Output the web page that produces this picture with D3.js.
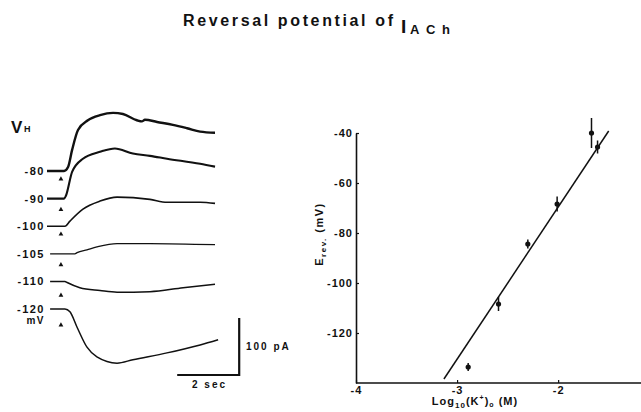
<!DOCTYPE html>
<html>
<head>
<meta charset="utf-8">
<script src="https://cdn.jsdelivr.net/npm/d3@7"></script>
<style>
  body { margin: 0; background: #fff; }
  svg { display: block; }
  text { font-family: "Liberation Sans", Arial, sans-serif; font-weight: bold; fill: #111; }
</style>
</head>
<body>
<svg id="chart" width="641" height="412"></svg>
<script>
// holding potentials (mV), one current trace each
const holding = ['-80', '-90', '-100', '-105', '-110', '-120'];

// ACh-induced currents: [time (s), current (pA)], upward deflection positive
const trace80 = [[0, 0], [0.55, 0], [0.68, 7], [0.81, 37], [1.0, 72], [1.32, 89], [1.71, 98], [2.13, 102], [2.45, 100], [2.9, 89], [3.06, 87], [3.16, 90], [3.55, 86], [4.06, 81], [4.52, 75], [4.94, 69], [5.42, 67]];
const trace90 = [[0, 0], [0.55, 0], [0.61, 5], [0.81, 47], [1.16, 70], [1.71, 82], [2.19, 88], [2.77, 79], [3.32, 75], [3.87, 70], [4.94, 61], [5.42, 56]];
const trace100 = [[0, 0], [0.58, 0], [0.74, 9], [1.16, 30], [1.71, 44], [2.26, 51], [3.32, 47], [3.87, 42], [4.94, 42], [5.42, 40]];
const trace105 = [[0.1, 0], [0.9, 0], [0.97, 2], [1.29, 7], [1.61, 12], [2.26, 18], [3.32, 18], [5.42, 16]];
const trace110 = [[0.1, 0], [0.58, 0], [0.65, -2], [1.06, -11], [1.71, -16], [2.26, -19], [3.32, -18], [4.39, -11], [5.42, -5]];
const trace120 = [[0.1, 0], [0.58, 0], [0.74, -5], [0.97, -32], [1.29, -67], [1.61, -84], [2.26, -95], [2.77, -89], [3.87, -77], [4.94, -63], [5.52, -54]];
const traces = [trace80, trace90, trace100, trace105, trace110, trace120];
const achOnset = 0.45; // s, arrowheads

// reversal potential vs log10 [K+]o
const logK = [-2.89, -2.59, -2.30, -2.01, -1.67, -1.61];
const eRev = [-133.6, -108.4, -84.4, -68.4, -40, -45.6];
const eErr = [1.6, 2.8, 1.8, 3, 6, 2.6];
const fitLogK = [-3.13, -1.50];
const fitE = [-138.4, -39.2];

const yTicks = [-40, -60, -80, -100, -120];
const xTicks = [-4, -3, -2];

// small stand-in for d3-selection-multi
d3.selection.prototype.attrs = function (o) {
  for (const k in o) this.attr(k, o[k]);
  return this;
};

main();

function main () {
  const svg = d3.select('#chart');
  drawTitle(svg);
  drawTraces(svg);
  drawPlot(svg);
}

function drawTitle (svg) {
  svg.append('text').text('Reversal potential of').attrs({
    x: 183, y: 26, 'font-size': 16, textLength: 210, lengthAdjust: 'spacing'
  });
  svg.append('text').text('I').attrs({
    x: 401, y: 33, 'font-size': 19, 'font-family': 'Liberation Serif, serif'
  });
  svg.append('text').text('ACh').attrs({
    x: 410, y: 34, 'font-size': 13, textLength: 40, lengthAdjust: 'spacing'
  });
}

function drawTraces (svg) {
  const t = d3.scaleLinear().domain([0, 2]).range([47, 109]);
  const amp = d3.scaleLinear().domain([0, 100]).range([0, -57]);
  const row = d3.scalePoint().domain(holding).range([171, 309]);
  const widths = [2.4, 2.1, 1.6, 1.3, 1.5, 1.5];
  const markerGap = [8, 11, 8, 11, 14, 16];

  svg.append('text').text('V').attrs({ x: 11, y: 133, 'font-size': 17 });
  svg.append('text').text('H').attrs({ x: 24, y: 132, 'font-size': 9 });

  holding.forEach((v, i) => {
    const base = row(v);
    const line = d3.line()
      .x(d => t(d[0]))
      .y(d => base + amp(d[1]))
      .curve(d3.curveMonotoneX);
    svg.append('path').attrs({
      d: line(traces[i]),
      fill: 'none',
      stroke: '#111',
      'stroke-width': widths[i],
      'stroke-linejoin': 'round'
    });
    svg.append('text').text(v).attrs({
      x: 45, y: base + 4, 'text-anchor': 'end', 'font-size': 11, 'letter-spacing': 1.5
    });
    svg.append('path').attrs({
      d: d3.symbol(d3.symbolTriangle, 10)(),
      transform: `translate(${t(achOnset)},${base + markerGap[i]})`,
      fill: '#111'
    });
  });
  svg.append('text').text('mV').attrs({
    x: 45, y: row('-120') + 15, 'text-anchor': 'end', 'font-size': 10, 'letter-spacing': 1.5
  });

  // scale bars
  const barY = 375;
  const x0 = t(4.2);
  const x1 = t(6.2);
  svg.append('path').attrs({
    d: `M${x0},${barY}H${x1}V${barY + amp(100)}`,
    fill: 'none', stroke: '#111', 'stroke-width': 2.2
  });
  svg.append('text').text('2 sec').attrs({
    x: 192, y: 388, 'font-size': 10, 'letter-spacing': 2
  });
  svg.append('text').text('100 pA').attrs({
    x: 246, y: 350, 'font-size': 10, 'letter-spacing': 2
  });
}

function drawPlot (svg) {
  const x = d3.scaleLinear().domain([-4, -1.2]).range([356, 639]);
  const y = d3.scaleLinear().domain([-140, -40]).range([383, 133]);

  const gy = svg.append('g').attr('transform', `translate(${x(-4)},0)`)
    .call(d3.axisLeft(y).tickValues(yTicks).tickSize(-3).tickSizeOuter(0).tickPadding(3).tickFormat(String));
  const gx = svg.append('g').attr('transform', `translate(0,${y(-140)})`)
    .call(d3.axisBottom(x).tickValues(xTicks).tickSize(-3).tickSizeOuter(0).tickPadding(3).tickFormat(String));

  for (const g of [gy, gx]) {
    g.selectAll('.domain').attrs({ stroke: '#111', 'stroke-width': 1.6 });
    g.selectAll('.tick line').attrs({ stroke: '#111', 'stroke-width': 1.2 });
    g.selectAll('text').attrs({
      'font-family': '"Liberation Sans", Arial, sans-serif',
      'font-size': 11, 'font-weight': 'bold', fill: '#111', 'letter-spacing': 1
    });
  }
  gx.select('.domain').attr('d', `M${x(-4)},0H641`);

  // axis titles
  const yl = svg.append('text').attrs({
    transform: 'translate(323,234) rotate(-90)', 'text-anchor': 'middle', 'font-size': 11, 'letter-spacing': 1.5
  });
  yl.append('tspan').text('E');
  yl.append('tspan').text('rev.').attrs({ 'font-size': 8, dy: 3 });
  yl.append('tspan').text(' (mV)').attr('dy', -3);

  const xl = svg.append('text').attrs({
    x: 475, y: 405, 'text-anchor': 'middle', 'font-size': 11, 'letter-spacing': 1
  });
  xl.append('tspan').text('Log');
  xl.append('tspan').text('10').attrs({ 'font-size': 8, dy: 3 });
  xl.append('tspan').text('(K').attr('dy', -3);
  xl.append('tspan').text('+').attrs({ 'font-size': 7, dy: -5 });
  xl.append('tspan').text(')').attr('dy', 5);
  xl.append('tspan').text('o').attrs({ 'font-size': 7, dy: 2 });
  xl.append('tspan').text(' (M)').attr('dy', -2);

  // regression line
  const fit = d3.line().x(d => x(d[0])).y(d => y(d[1]));
  svg.append('path').attrs({
    d: fit(d3.zip(fitLogK, fitE)),
    fill: 'none', stroke: '#111', 'stroke-width': 1.5
  });

  // points with error bars
  logK.forEach((k, i) => {
    svg.append('line').attrs({
      x1: x(k), x2: x(k), y1: y(eRev[i] - eErr[i]), y2: y(eRev[i] + eErr[i]),
      stroke: '#111', 'stroke-width': 1.5
    });
    svg.append('circle').attrs({ cx: x(k), cy: y(eRev[i]), r: 2.6, fill: '#111' });
  });
}
</script>
</body>
</html>
